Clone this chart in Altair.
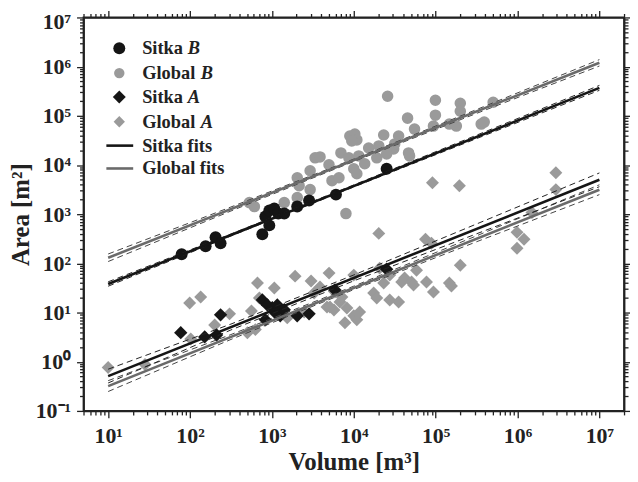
import altair as alt
import pandas as pd

# ---------------- data ----------------
sitka_B_vol = [79, 155, 205, 236, 764, 832, 930, 1069, 1197, 1415, 930, 2037, 2846, 6060, 25200]
sitka_B_area = [153, 222, 338, 256, 389, 900, 1190, 1303, 1033, 1033, 592, 1432, 1893, 2500, 8380]

global_B_vol = [531, 611, 1415, 2040, 2150, 2930, 2930, 3370, 2040, 3870, 4980, 5420, 6590, 6970,
                8710, 8950, 10300, 10900, 9460, 10000, 10900, 11500, 13600, 15200, 20200, 23200,
                30700, 31600, 35300, 46700, 48000, 45400, 25900, 55200, 94000, 99300, 99300,
                147000, 179000, 200000, 200000, 360000, 392000, 504000, 8020, 19100, 25200]
global_B_area = [1720, 1430, 1720, 5510, 3800, 7640, 3160, 14000, 2170, 14600, 10100, 4800, 5510, 17600,
                 14000, 38900, 42700, 32300, 30800, 8380, 6640, 15300, 10600, 22200, 24400, 40700,
                 21200, 26800, 38900, 17600, 15300, 89700, 250000, 53800, 61900, 207000, 103000,
                 67900, 61900, 180000, 124000, 67900, 74600, 189000, 1030, 14000, 16800]

sitka_A_vol = [77, 151, 211, 236, 764, 879, 1011, 1100, 1264, 832, 1415, 2037, 2846, 5890, 25200, 1164]
sitka_A_area = [3.9, 3.2, 3.5, 9.0, 18.1, 14.3, 12.5, 9.9, 8.6, 7.1, 11.4, 8.6, 9.4, 28.8, 76, 14.3]

global_A_vol = [10, 28.2, 99, 135, 102, 200, 304, 502, 562, 628, 666, 703, 1070, 1920, 3010, 4990,
                3280, 1540, 2480, 4710, 5730, 6780, 3870, 5890, 8240, 7800, 10000, 10900, 11800,
                10000, 17500, 19100, 27500, 35300, 20700, 20200, 27500, 23200, 41800, 50800,
                53700, 58400, 77300, 94000, 147000, 156000, 200000, 91400, 195000, 75200, 88900,
                986000, 1200000, 986000, 1500000, 2940000, 2940000, 38500, 5120, 7160]
global_A_area = [0.76, 0.88, 15.7, 20.7, 2.9, 5.6, 9.4, 3.9, 10.8, 4.5, 39.8, 19.8, 31.6, 55, 43.7, 63.4,
                 25, 7.8, 10.3, 13, 11.3, 16.4, 33, 26.2, 12.4, 6.2, 8.6, 7.1, 10.3,
                 57.7, 25, 19.8, 18, 16.4, 80, 407, 57.7, 39.8, 50.2, 41.7,
                 36.2, 72.8, 41.7, 26.2, 39.8, 34.6, 91.8, 4360, 3800, 308, 256,
                 427, 308, 203, 1080, 6950, 3160, 41.7, 13, 20.7]

# fitted power laws (end points) and their dashed confidence bands
fit_vol = [10, 1e7]
fit_sitka_B = [38, 3.7e5]
fit_global_B = [130, 1.2e6]
fit_sitka_A = [0.51, 5000]
fit_global_A = [0.32, 3150]

band_vol = [10, 316, 1e4, 3.16e5, 1e7]
band_sitka_B_hi = [42.2, 395, 3930, 40400, 415000]
band_sitka_B_lo = [34.3, 361, 3580, 34400, 330000]
band_global_B_hi = [155, 1400, 13200, 134000, 1.39e6]
band_global_B_lo = [109, 1160, 11800, 112000, 1.03e6]
band_sitka_A_hi = [0.705, 5.83, 58.1, 632, 6900]
band_sitka_A_lo = [0.370, 4.43, 44.1, 399, 3620]
band_global_A_hi = [0.412, 3.57, 34.4, 363, 3960]
band_global_A_lo = [0.248, 2.84, 29.3, 275, 2500]

x_tick_labels = ["10¹", "10²", "10³", "10⁴", "10⁵", "10⁶", "10⁷"]
y_tick_labels = ["10⁻¹", "10⁰", "10¹", "10²", "10³", "10⁴", "10⁵", "10⁶", "10⁷"]

# ---------------- tables ----------------
def pts(v, a):
    return pd.DataFrame({"V": v, "A": a})

def line_df(v, series):
    rows = []
    for name, vals in series.items():
        for x, y in zip(v, vals):
            rows.append({"V": x, "A": y, "s": name})
    return pd.DataFrame(rows)

x_minor = [m * 10 ** k for k in range(0, 8) for m in range(1, 10) if 5 <= m * 10 ** k <= 2e7]
y_minor = [m * 10.0 ** k for k in range(-1, 8) for m in range(1, 10) if 0.1 <= m * 10.0 ** k <= 1e7]

FONT = "Liberation Serif"
LABEL_SIZE = 22
TEST = "abs(log(datum.value)/LN10 - round(log(datum.value)/LN10)) < 0.01"
xlab_arr = "[" + ",".join("'%s'" % s for s in x_tick_labels) + "]"
ylab_arr = "[" + ",".join("'%s'" % s for s in y_tick_labels) + "]"
x_label_expr = f"({TEST}) ? {xlab_arr}[round(log(datum.value)/LN10)-1] : ''"
y_label_expr = f"({TEST}) ? {ylab_arr}[round(log(datum.value)/LN10)+1] : ''"
tick_size = {"condition": {"test": TEST, "value": 7}, "value": 4}

xscale = alt.Scale(type="log", domain=[5, 2e7], nice=False)
yscale = alt.Scale(type="log", domain=[0.1, 1e7], nice=False)

common_axis = dict(tickColor="#222", domainColor="#222", domainWidth=1.8, tickWidth=1.3,
                   labelFont=FONT, labelFontWeight="bold", labelFontSize=LABEL_SIZE, labelColor="#222",
                   titleFont=FONT, titleFontWeight="bold", titleFontSize=25, titleColor="#222",
                   labelOverlap=False, labelFlush=False, grid=False, tickSize=tick_size)

x_bottom = alt.Axis(orient="bottom", values=x_minor, labelExpr=x_label_expr, title="Volume [m³]",
                    labelPadding=8, titlePadding=3, **common_axis)
y_left = alt.Axis(orient="left", values=y_minor, labelExpr=y_label_expr, title="Area [m²]",
                  labelPadding=6, titlePadding=2,
                  labelOffset={"condition": {"test": "datum.value > 5e6", "value": 4}, "value": 0},
                  **common_axis)
x_top = alt.Axis(orient="top", values=x_minor, labels=False, title=None, **common_axis)
y_right = alt.Axis(orient="right", values=y_minor, labels=False, title=None, **common_axis)

BLACK = "#151515"
GRAY_PT = "#9a9a9a"
GRAY_LINE = "#6a6a6a"


def X(axis=None):
    return alt.X("V:Q", scale=xscale, axis=axis)


def Y(axis=None):
    return alt.Y("A:Q", scale=yscale, axis=axis)


gB = alt.Chart(pts(global_B_vol, global_B_area)).mark_point(
    shape="circle", filled=True, size=135, color=GRAY_PT, opacity=1
).encode(x=X(x_bottom), y=Y(y_left))

gA = alt.Chart(pts(global_A_vol, global_A_area)).mark_point(
    shape="diamond", filled=True, size=170, color=GRAY_PT, opacity=1
).encode(x=X(x_top), y=Y(y_right))

sB = alt.Chart(pts(sitka_B_vol, sitka_B_area)).mark_point(
    shape="circle", filled=True, size=145, color=BLACK, opacity=1
).encode(x=X(), y=Y())

sA = alt.Chart(pts(sitka_A_vol, sitka_A_area)).mark_point(
    shape="diamond", filled=True, size=180, color=BLACK, opacity=1
).encode(x=X(), y=Y())

bands_s = alt.Chart(line_df(band_vol, {
    "sBh": band_sitka_B_hi, "sBl": band_sitka_B_lo, "sAh": band_sitka_A_hi, "sAl": band_sitka_A_lo,
})).mark_line(color="#222", strokeWidth=1, strokeDash=[6, 4]).encode(x=X(), y=Y(), detail="s:N")

bands_g = alt.Chart(line_df(band_vol, {
    "gBh": band_global_B_hi, "gBl": band_global_B_lo, "gAh": band_global_A_hi, "gAl": band_global_A_lo,
})).mark_line(color="#444", strokeWidth=1, strokeDash=[6, 4]).encode(x=X(), y=Y(), detail="s:N")

fits_g = alt.Chart(line_df(fit_vol, {"gB": fit_global_B, "gA": fit_global_A})).mark_line(
    color=GRAY_LINE, strokeWidth=2.6).encode(x=X(), y=Y(), detail="s:N")
fits_s = alt.Chart(line_df(fit_vol, {"sB": fit_sitka_B, "sA": fit_sitka_A})).mark_line(
    color=BLACK, strokeWidth=2.6).encode(x=X(), y=Y(), detail="s:N")

# ---------------- legend (drawn inside plot, top-left) ----------------
one = pd.DataFrame({"k": [0]})
leg_rows = [31, 56, 80, 105, 129, 152]
sym_x = 36
txt_x = 59
legend_layers = []
legend_layers.append(alt.Chart(one).mark_point(shape="circle", filled=True, size=145, color=BLACK, opacity=1)
                     .encode(x=alt.value(sym_x), y=alt.value(leg_rows[0])))
legend_layers.append(alt.Chart(one).mark_point(shape="circle", filled=True, size=110, color=GRAY_PT, opacity=1)
                     .encode(x=alt.value(sym_x), y=alt.value(leg_rows[1])))
legend_layers.append(alt.Chart(one).mark_point(shape="diamond", filled=True, size=170, color=BLACK, opacity=1)
                     .encode(x=alt.value(sym_x), y=alt.value(leg_rows[2])))
legend_layers.append(alt.Chart(one).mark_point(shape="diamond", filled=True, size=130, color=GRAY_PT, opacity=1)
                     .encode(x=alt.value(sym_x), y=alt.value(leg_rows[3])))
legend_layers.append(alt.Chart(one).mark_rule(color=BLACK, strokeWidth=2.6)
                     .encode(x=alt.value(23), x2=alt.value(50), y=alt.value(leg_rows[4])))
legend_layers.append(alt.Chart(one).mark_rule(color=GRAY_LINE, strokeWidth=2.6)
                     .encode(x=alt.value(23), x2=alt.value(50), y=alt.value(leg_rows[5])))

leg_words = ["Sitka", "Global", "Sitka", "Global", "Sitka fits", "Global fits"]
leg_ital = ["B", "B", "A", "A", "", ""]
leg_ital_x = [105, 118, 105, 118, 0, 0]
for i, (w, it, ix) in enumerate(zip(leg_words, leg_ital, leg_ital_x)):
    legend_layers.append(alt.Chart(one).mark_text(
        text=w, font=FONT, fontWeight="bold", fontSize=18.5, color="#222", align="left", baseline="middle"
    ).encode(x=alt.value(txt_x), y=alt.value(leg_rows[i])))
    if it:
        legend_layers.append(alt.Chart(one).mark_text(
            text=it, font=FONT, fontWeight="bold", fontStyle="italic", fontSize=18.5, color="#222",
            align="left", baseline="middle"
        ).encode(x=alt.value(ix), y=alt.value(leg_rows[i])))

chart = alt.layer(
    gB, gA, sB, sA, bands_g, bands_s, fits_g, fits_s, *legend_layers
).resolve_axis(x="independent", y="independent").properties(
    width=544, height=396,
    autosize=alt.AutoSizeParams(type="none"),
    padding={"left": 76, "top": 8, "right": 6, "bottom": 66},
).configure_view(stroke="#222", strokeWidth=1.8).configure_axis(
    labelFontSize=LABEL_SIZE, labelFont=FONT, labelFontWeight="bold"
)

chart.save("out.html", embed_options={"renderer": "svg", "actions": False})
